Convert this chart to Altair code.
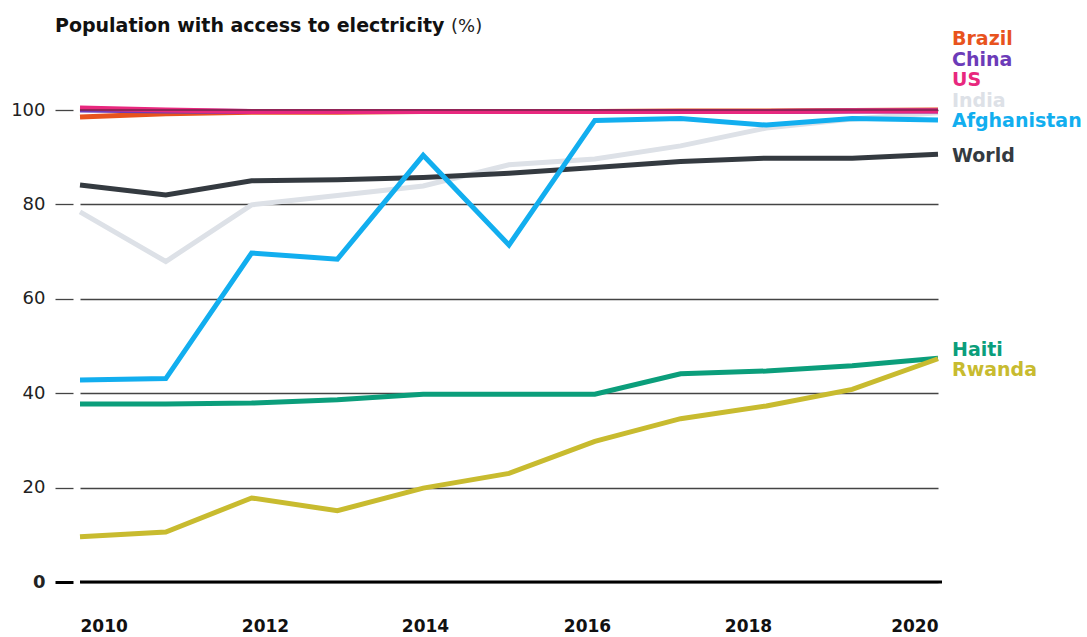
import altair as alt
import pandas as pd

years = [2010, 2011, 2012, 2013, 2014, 2015, 2016, 2017, 2018, 2019, 2020]

india = [78.4, 67.9, 79.9, 81.9, 83.9, 88.4, 89.6, 92.4, 96.2, 98.1, 99.4]
world = [84.1, 82.0, 85.0, 85.2, 85.7, 86.6, 87.8, 89.1, 89.8, 89.8, 90.6]
afghanistan = [42.8, 43.1, 69.7, 68.4, 90.4, 71.4, 97.8, 98.2, 96.8, 98.2, 97.9]
haiti = [37.7, 37.7, 37.9, 38.6, 39.8, 39.8, 39.8, 44.1, 44.7, 45.8, 47.4]
rwanda = [9.6, 10.6, 17.8, 15.1, 19.9, 23.0, 29.8, 34.6, 37.3, 40.8, 47.3]
brazil = [98.5, 99.2, 99.5, 99.5, 99.7, 99.7, 99.7, 99.8, 99.8, 99.9, 100.0]
china = [100.0, 99.8, 99.7, 99.7, 99.7, 99.7, 99.7, 99.7, 99.7, 99.8, 99.8]
us = [100.4, 100.0, 99.7, 99.7, 99.7, 99.7, 99.7, 99.7, 99.7, 99.8, 99.8]

countries = ["India", "World", "Afghanistan", "Haiti", "Rwanda", "Brazil", "China", "US"]
series = [india, world, afghanistan, haiti, rwanda, brazil, china, us]
colors = ["#DDE1E7", "#343A40", "#12AEEF", "#0B9E7B", "#C8BB2F", "#E8531D", "#6C3BB8", "#E8287E"]

label_names = ["Brazil", "China", "US", "India", "Afghanistan", "World", "Haiti", "Rwanda"]
label_pos = [113.8, 109.4, 105.1, 100.7, 96.3, 89.0, 47.8, 43.6]

x_ticks = [2010, 2012, 2014, 2016, 2018, 2020]
y_ticks = [0, 20, 40, 60, 80, 100]

rows = []
for c, vals in zip(countries, series):
    for yr, v in zip(years, vals):
        rows.append({"country": c, "year": yr, "value": v, "order": countries.index(c)})
df = pd.DataFrame(rows)
labels_df = pd.DataFrame({"country": label_names, "pos": label_pos})

FONT = "DejaVu Sans"
W, H = 858, 472

color_scale = alt.Scale(domain=countries, range=colors)
x_scale = alt.Scale(domain=[2010, 2020], nice=False, zero=False)
y_scale = alt.Scale(domain=[0, 100], nice=False)

offset_conds = [
    {"test": "datum.value == 2012", "value": 13.4},
    {"test": "datum.value == 2014", "value": 1.8},
    {"test": "datum.value == 2016", "value": -7.8},
    {"test": "datum.value == 2018", "value": -18.4},
]

lines = alt.Chart(df).mark_line(strokeWidth=5, strokeJoin="miter", strokeCap="butt").encode(
    x=alt.X("year:Q", scale=x_scale, axis=alt.Axis(
        values=x_ticks, format="d", title=None, grid=False, domain=False, ticks=False,
        labelFont=FONT, labelFontSize=17, labelFontWeight="bold", labelColor="#111111",
        labelPadding=36, labelFlush=True, labelOffset={"condition": offset_conds, "value": 0},
    )),
    y=alt.Y("value:Q", scale=y_scale, axis=alt.Axis(
        values=y_ticks, title=None, domain=False, offset=7,
        tickSize=18, tickColor={"condition": {"test": "datum.value == 0", "value": "#000000"}, "value": "#444444"},
        tickWidth={"condition": {"test": "datum.value == 0", "value": 3}, "value": 1.3},
        labelFont=FONT, labelFontSize=18, labelColor="#222222", labelPadding=10,
        labelFontWeight={"condition": {"test": "datum.value == 0", "value": "bold"}, "value": "normal"},
        grid=True, gridColor="#444444", gridWidth=1.3,
    )),
    color=alt.Color("country:N", scale=color_scale, legend=None),
    detail="country:N",
    order="order:Q",
)

zero_line = alt.Chart(pd.DataFrame({"v": [0]})).mark_rule(color="#000000", strokeWidth=3).encode(
    y=alt.Y("v:Q", scale=y_scale),
    x=alt.value(0),
    x2=alt.value(W + 4),
)

top_grid = alt.Chart(pd.DataFrame({"v": [100]})).mark_rule(color="#3a2030", strokeWidth=1).encode(
    y=alt.Y("v:Q", scale=y_scale),
    x=alt.value(0),
    x2=alt.value(W),
)

labels = alt.Chart(labels_df).mark_text(
    align="left", baseline="alphabetic", font=FONT, fontSize=19, fontWeight="bold"
).encode(
    x=alt.value(W + 14),
    y=alt.Y("pos:Q", scale=y_scale),
    text="country:N",
    color=alt.Color("country:N", scale=color_scale, legend=None),
)

title_bold = alt.Chart(pd.DataFrame({"t": ["Population with access to electricity"]})).mark_text(
    align="left", baseline="alphabetic", font=FONT, fontSize=19, fontWeight="bold", color="#111111"
).encode(x=alt.value(-25), y=alt.value(-78), text="t:N")

title_unit = alt.Chart(pd.DataFrame({"t": ["(%)"]})).mark_text(
    align="left", baseline="alphabetic", font=FONT, fontSize=18, fontWeight="normal", color="#222222"
).encode(x=alt.value(371), y=alt.value(-78), text="t:N")

chart = alt.layer(lines, top_grid, zero_line, labels, title_bold, title_unit).properties(
    width=W, height=H,
    background="#ffffff",
    autosize=alt.AutoSizeParams(type="none"),
    padding={"left": 80, "top": 110, "right": 149, "bottom": 55},
).configure_view(stroke=None)

chart.save("out.html", embed_options={"renderer": "svg", "actions": False})
